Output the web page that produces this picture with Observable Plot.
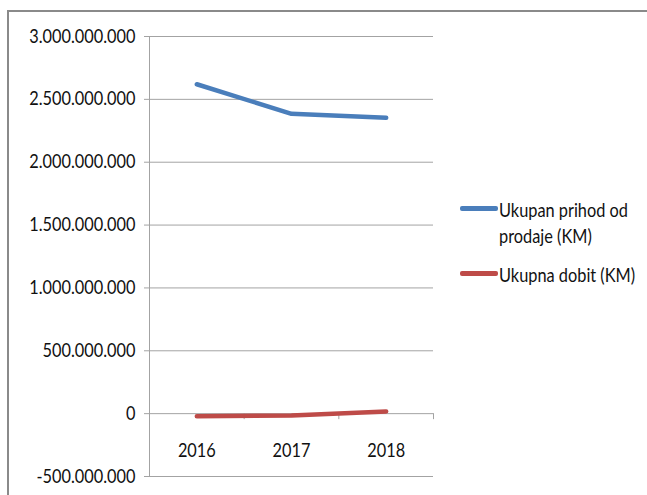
<!DOCTYPE html>
<html>
<head>
<meta charset="utf-8">
<script src="https://cdn.jsdelivr.net/npm/d3@7"></script>
<script src="https://cdn.jsdelivr.net/npm/@observablehq/plot@0.6"></script>
<style>
  html, body { margin: 0; padding: 0; background: #fff; }
  #wrap { position: relative; width: 647px; height: 495px; overflow: hidden;
          font-family: Lato, "Open Sans", sans-serif; }
  #border { position: absolute; left: 7px; top: 10px; width: 800px; height: 800px;
            border: 2px solid #8a8a8a; box-sizing: border-box; }
  #chart { position: absolute; left: 0; top: 0; }
  .lg-item { position: absolute; left: 460px; }
  .lg-swatch { position: absolute; left: 0; width: 38px; height: 5px; border-radius: 2px; }
  .lg-text { position: absolute; left: 39px; width: 172px; font-size: 19px; line-height: 26px; color: #111;
             transform: scaleX(0.86); transform-origin: 0 0; }
</style>
</head>
<body>
<div id="wrap">
  <div id="border"></div>
  <div id="chart"></div>
  <div id="legend"></div>
</div>
<script>
// ---- data ----
const years = [2016, 2017, 2018];
const prihod = [2620000000, 2385000000, 2353000000];   // Ukupan prihod od prodaje (KM)
const dobit  = [-20000000, -15000000, 18000000];        // Ukupna dobit (KM)
const seriesNames = ["Ukupan prihod od prodaje (KM)", "Ukupna dobit (KM)"];
const seriesColors = ["#4a7ebb", "#be4b48"];
const yTicks = [-500000000, 0, 500000000, 1000000000, 1500000000, 2000000000, 2500000000, 3000000000];

// ---- table ----
const rows = [];
years.forEach((y, i) => {
  rows.push({year: y, value: prihod[i], series: seriesNames[0]});
  rows.push({year: y, value: dobit[i], series: seriesNames[1]});
});
const boundaries = years.map(y => y + 0.5);

const locale = d3.formatLocale({decimal: ",", thousands: ".", grouping: [3], currency: ["", ""], minus: "-"});
const fmt = locale.format(",d");

const font = 'Lato, "Open Sans", sans-serif';
const textScale = 0.86;

const chart = Plot.plot({
  width: 647,
  height: 495,
  marginLeft: 149,
  marginRight: 214,
  marginTop: 36,
  marginBottom: 19,
  style: {fontFamily: font, fontSize: "19px", background: "transparent", color: "#111", overflow: "visible"},
  x: {type: "linear", domain: [years[0] - 0.5, years[years.length - 1] + 0.5], axis: null},
  y: {domain: [yTicks[0], yTicks[yTicks.length - 1]], axis: null},
  color: {domain: seriesNames, range: seriesColors},
  marks: [
    Plot.gridY(yTicks, {stroke: "#a3a3a3", strokeOpacity: 1, strokeWidth: 1}),
    Plot.axisY(yTicks, {tickFormat: fmt, tickSize: 5, tickPadding: 9, stroke: "#a3a3a3", fill: "#111", fontSize: 19, label: null}),
    Plot.frame({anchor: "left", stroke: "#a3a3a3"}),
    Plot.ruleX(boundaries, {x: d => d, y1: 0, y2: 0, insetBottom: -6, stroke: "#a3a3a3"}),
    Plot.text(years, {x: d => d, y: 0, dy: 37, text: d => String(d), fill: "#111", fontSize: 19}),
    Plot.line(rows, {x: "year", y: "value", z: "series", stroke: "series",
                     strokeWidth: 4.5, strokeLinecap: "round", strokeLinejoin: "round"})
  ]
});
// horizontally condense the text to resemble the original narrow typeface
chart.querySelectorAll("text").forEach(t => {
  const tr = t.getAttribute("transform");
  if (tr) {
    t.setAttribute("transform", tr + ` scale(${textScale},1)`);
  } else {
    const x = +(t.getAttribute("x") || 0);
    t.setAttribute("transform", `translate(${x},0) scale(${textScale},1) translate(${-x},0)`);
  }
});
document.getElementById("chart").appendChild(chart);

// ---- legend ----
const legend = document.getElementById("legend");
const legendTops = [197, 262];
seriesNames.forEach((name, i) => {
  const item = document.createElement("div");
  item.className = "lg-item";
  item.style.top = legendTops[i] + "px";
  const sw = document.createElement("div");
  sw.className = "lg-swatch";
  sw.style.background = seriesColors[i];
  sw.style.top = "9px";
  const tx = document.createElement("div");
  tx.className = "lg-text";
  tx.textContent = name;
  item.appendChild(sw);
  item.appendChild(tx);
  legend.appendChild(item);
});
</script>
</body>
</html>
